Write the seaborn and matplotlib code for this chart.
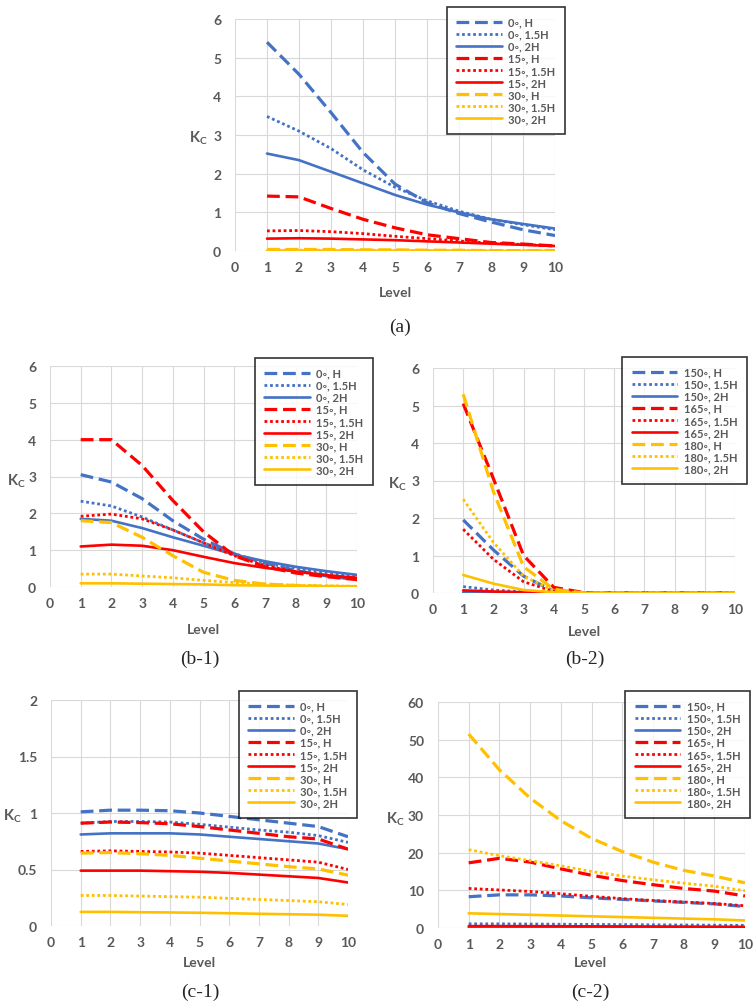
import numpy as np
import pandas as pd
import matplotlib
matplotlib.use("Agg")
import matplotlib.pyplot as plt
import seaborn as sns

levels = list(range(1, 11))

angles_low = ["0", "15", "30"]
angles_high = ["150", "165", "180"]
spacings = ["H", "1.5H", "2H"]

# series order: (angle1: H, 1.5H, 2H), (angle2: ...), (angle3: ...)
kc_a = [
    [5.40, 4.57, 3.58, 2.55, 1.73, 1.25, 0.97, 0.75, 0.55, 0.40],
    [3.48, 3.10, 2.65, 2.10, 1.65, 1.30, 1.03, 0.82, 0.68, 0.55],
    [2.52, 2.35, 2.05, 1.75, 1.45, 1.20, 1.00, 0.82, 0.70, 0.58],
    [1.42, 1.40, 1.10, 0.82, 0.60, 0.42, 0.32, 0.22, 0.18, 0.13],
    [0.52, 0.53, 0.50, 0.45, 0.38, 0.32, 0.26, 0.20, 0.17, 0.13],
    [0.32, 0.33, 0.32, 0.30, 0.28, 0.25, 0.22, 0.19, 0.16, 0.13],
    [0.04, 0.04, 0.04, 0.03, 0.03, 0.02, 0.02, 0.01, 0.01, 0.01],
    [0.02, 0.02, 0.02, 0.02, 0.02, 0.01, 0.01, 0.01, 0.01, 0.01],
    [0.01, 0.01, 0.01, 0.01, 0.01, 0.01, 0.01, 0.00, 0.00, 0.00],
]

kc_b1 = [
    [3.05, 2.85, 2.40, 1.80, 1.30, 0.90, 0.65, 0.45, 0.30, 0.20],
    [2.33, 2.20, 1.90, 1.55, 1.20, 0.90, 0.65, 0.50, 0.38, 0.28],
    [1.85, 1.80, 1.60, 1.35, 1.12, 0.88, 0.70, 0.55, 0.43, 0.33],
    [4.00, 4.00, 3.30, 2.35, 1.50, 0.85, 0.55, 0.38, 0.28, 0.20],
    [1.92, 1.98, 1.85, 1.55, 1.20, 0.85, 0.58, 0.42, 0.32, 0.22],
    [1.10, 1.15, 1.12, 1.00, 0.82, 0.65, 0.52, 0.42, 0.32, 0.25],
    [1.80, 1.75, 1.35, 0.85, 0.40, 0.18, 0.08, 0.04, 0.02, 0.01],
    [0.35, 0.35, 0.30, 0.25, 0.18, 0.12, 0.08, 0.05, 0.03, 0.02],
    [0.10, 0.10, 0.09, 0.08, 0.07, 0.05, 0.04, 0.03, 0.02, 0.02],
]

kc_b2 = [
    [1.95, 1.15, 0.45, 0.05, 0.0, 0.0, 0.0, 0.0, 0.0, 0.0],
    [0.17, 0.08, 0.03, 0.01, 0.0, 0.0, 0.0, 0.0, 0.0, 0.0],
    [0.02, 0.01, 0.0, 0.0, 0.0, 0.0, 0.0, 0.0, 0.0, 0.0],
    [5.05, 3.05, 1.00, 0.15, 0.01, 0.0, 0.0, 0.0, 0.0, 0.0],
    [1.70, 0.90, 0.30, 0.04, 0.0, 0.0, 0.0, 0.0, 0.0, 0.0],
    [0.07, 0.04, 0.02, 0.01, 0.0, 0.0, 0.0, 0.0, 0.0, 0.0],
    [5.30, 2.70, 0.70, 0.10, 0.0, 0.0, 0.0, 0.0, 0.0, 0.0],
    [2.50, 1.35, 0.45, 0.06, 0.0, 0.0, 0.0, 0.0, 0.0, 0.0],
    [0.48, 0.25, 0.08, 0.02, 0.0, 0.0, 0.0, 0.0, 0.0, 0.0],
]

kc_c1 = [
    [1.010, 1.025, 1.025, 1.020, 1.000, 0.970, 0.940, 0.910, 0.880, 0.790],
    [0.910, 0.925, 0.925, 0.920, 0.900, 0.875, 0.850, 0.830, 0.800, 0.740],
    [0.810, 0.820, 0.820, 0.820, 0.810, 0.790, 0.770, 0.750, 0.730, 0.680],
    [0.910, 0.920, 0.915, 0.905, 0.880, 0.850, 0.820, 0.790, 0.770, 0.680],
    [0.660, 0.665, 0.660, 0.655, 0.645, 0.625, 0.605, 0.585, 0.565, 0.500],
    [0.490, 0.490, 0.490, 0.485, 0.480, 0.470, 0.455, 0.440, 0.425, 0.385],
    [0.645, 0.650, 0.640, 0.625, 0.600, 0.575, 0.550, 0.525, 0.505, 0.450],
    [0.270, 0.270, 0.265, 0.260, 0.255, 0.245, 0.235, 0.225, 0.215, 0.190],
    [0.125, 0.125, 0.122, 0.120, 0.117, 0.113, 0.108, 0.104, 0.100, 0.090],
]

kc_c2 = [
    [8.3, 8.8, 8.8, 8.5, 8.0, 7.6, 7.2, 6.8, 6.4, 5.7],
    [1.1, 1.1, 1.05, 1.0, 0.95, 0.9, 0.85, 0.8, 0.75, 0.7],
    [0.1, 0.1, 0.1, 0.09, 0.08, 0.08, 0.07, 0.06, 0.06, 0.05],
    [17.3, 18.5, 17.5, 15.7, 14.0, 12.6, 11.5, 10.5, 9.8, 8.5],
    [10.5, 10.1, 9.7, 9.1, 8.4, 7.8, 7.3, 6.9, 6.5, 5.9],
    [0.5, 0.5, 0.48, 0.46, 0.44, 0.42, 0.4, 0.37, 0.34, 0.3],
    [51.5, 42.0, 34.5, 28.5, 23.8, 20.3, 17.5, 15.3, 13.8, 12.0],
    [20.8, 19.2, 17.9, 16.5, 15.0, 13.8, 12.8, 11.9, 11.1, 9.9],
    [3.9, 3.7, 3.5, 3.3, 3.1, 2.9, 2.7, 2.5, 2.3, 2.0],
]

colors = ["#4472C4", "#FF0000", "#FFC000"]
styles = [(0, (4, 1.8)), (0, (1, 1)), "-"]
widths = [2.3, 2.0, 1.9]
grey = "#595959"

sns.set_style("white")
plt.rcParams["font.family"] = ["Lato", "DejaVu Sans"]
plt.rcParams["mathtext.fontset"] = "custom"
plt.rcParams["mathtext.bf"] = "Lato:bold"
plt.rcParams["mathtext.rm"] = "Lato:bold"

W, H = 754, 1004
fig = plt.figure(figsize=(W / 100, H / 100), dpi=100)


def px_axes(l, r, t, b):
    return fig.add_axes([l / W, 1 - b / H, (r - l) / W, (b - t) / H])


def draw_panel(box, data, angles, ymax, ystep, leg_box, kc_pos, level_pos,
               caption, cap_pos):
    ax = px_axes(*box)
    rows = []
    for i, series in enumerate(data):
        lab = f"{angles[i // 3]}\u25e6, {spacings[i % 3]}"
        rows.append(pd.DataFrame({"Level": levels, "Kc": series, "label": lab}))
    df = pd.concat(rows)
    for i, (lab, sub) in enumerate(df.groupby("label", sort=False)):
        sns.lineplot(data=sub, x="Level", y="Kc", ax=ax, color=colors[i // 3],
                     linestyle=styles[i % 3], linewidth=widths[i % 3], label=lab)
    ax.set_xlim(0, 10)
    ax.set_ylim(0, ymax)
    ax.set_xticks(range(0, 11))
    yt = np.arange(0, ymax + ystep / 2, ystep)
    ax.set_yticks(yt)
    ax.set_yticklabels([f"{v:g}" for v in yt])
    ax.grid(True, color="#D9D9D9", linewidth=0.8)
    ax.set_axisbelow(True)
    for s in ax.spines.values():
        s.set_visible(False)
    ax.tick_params(length=0, labelsize=10, labelcolor=grey)
    ax.tick_params(axis="x", pad=7)
    ax.tick_params(axis="y", pad=10)
    for t in ax.get_xticklabels() + ax.get_yticklabels():
        t.set_fontweight("bold")
    ax.set_xlabel("")
    ax.set_ylabel("")
    leg = ax.legend(loc="upper right",
                    bbox_to_anchor=(leg_box[0] / W, 1 - leg_box[1] / H),
                    bbox_transform=fig.transFigure, fontsize=8,
                    frameon=True, fancybox=False, edgecolor="black",
                    handlelength=4.1, handletextpad=0.6, labelspacing=0.1,
                    borderpad=0.85, borderaxespad=0)
    leg.get_frame().set_linewidth(1.2)
    for t in leg.get_texts():
        t.set_color(grey)
        t.set_fontweight("bold")
    fig.text(kc_pos[0] / W, 1 - kc_pos[1] / H, r"$\mathbf{K_C}$", fontsize=10.5,
             color=grey, ha="center", va="center")
    fig.text(level_pos[0] / W, 1 - level_pos[1] / H, "Level", fontsize=10,
             fontweight="bold", color=grey, ha="center", va="center")
    fig.text(cap_pos[0] / W, 1 - cap_pos[1] / H, caption, fontsize=14,
             family="Liberation Serif", ha="center", va="center")
    return ax


draw_panel((235, 555, 20, 252), kc_a, angles_low, 6, 1,
           (565, 8), (198, 138), (395, 293), "(a)", (400, 327))
draw_panel((50, 357, 367, 588), kc_b1, angles_low, 6, 1,
           (373, 359), (16, 481), (203, 630), "(b-1)", (200, 659))
draw_panel((433, 735, 369, 594), kc_b2, angles_high, 6, 1,
           (747, 358), (397, 484), (584, 632), "(b-2)", (585, 659))
draw_panel((51, 348, 701, 927), kc_c1, angles_low, 2, 0.5,
           (357, 692), (12, 816), (199, 963), "(c-1)", (200, 992))
draw_panel((438, 745, 703, 929), kc_c2, angles_high, 60, 10,
           (750, 692), (395, 819), (590, 963), "(c-2)", (590, 992))

fig.savefig("out.png", dpi=100)
